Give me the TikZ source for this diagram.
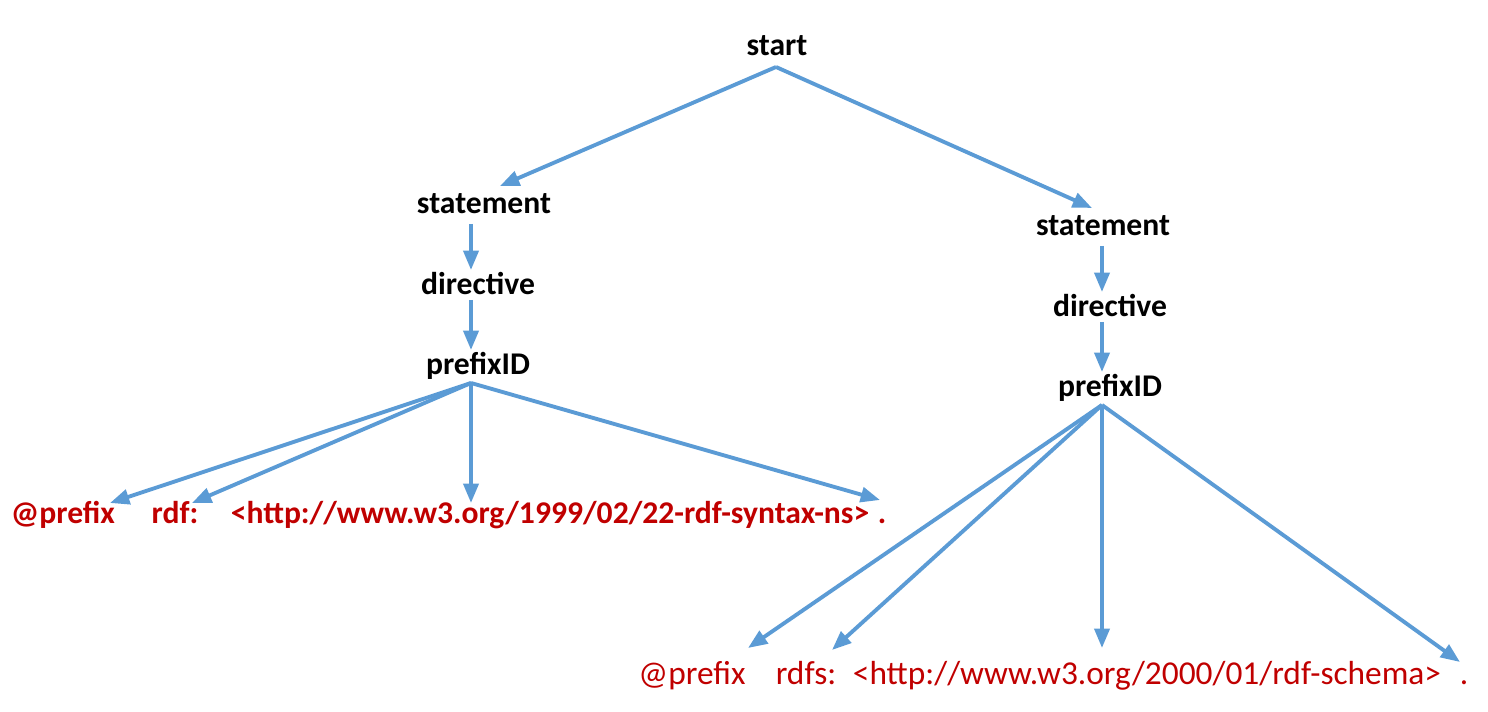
\documentclass[tikz,border=0pt]{standalone}
\usepackage{fontspec}
\setmainfont{Carlito}
\usetikzlibrary{arrows.meta}
\definecolor{treeblue}{HTML}{5B9BD5}
\definecolor{tokred}{HTML}{C00000}
\begin{document}
\begin{tikzpicture}[x=0.02cm,y=-0.02cm,>={Triangle[length=11pt,width=8.5pt]},
  lbl/.style={font=\fontsize{18}{20}\selectfont\bfseries,inner sep=0pt,anchor=base},
  tok/.style={lbl,text=tokred},
  tokthin/.style={tok,font=\fontsize{19}{21}\selectfont},
  arr/.style={->,treeblue,line width=2.2pt}]
\useasboundingbox (0,0) rectangle (1488,712);
% root
\node[lbl] (start) at (777,56) {start};
% left branch
\node[lbl] (lsmt) at (484,214) {statement};
\node[lbl] (ldir) at (478,295) {directive};
\node[lbl] (lpre) at (478,375) {prefixID};
\node[tok] (lat)  at (63,524)  {@prefix};
\node[tok] (lrdf) at (175,524) {rdf:};
\node[tok] (luri) at (550,524) {<http://www.w3.org/1999/02/22-rdf-syntax-ns>};
\node[tok] (ldot) at (882,524) {.};
% right branch
\node[lbl] (rsmt) at (1103,236) {statement};
\node[lbl] (rdir) at (1110,317) {directive};
\node[lbl] (rpre) at (1110,397) {prefixID};
\node[tokthin] (rat)   at (692,684)  {@prefix};
\node[tokthin] (rrdfs) at (806,684)  {rdfs:};
\node[tokthin] (ruri)  at (1147,684) {<http://www.w3.org/2000/01/rdf-schema>};
\node[tokthin] (rdot)  at (1464,684) {.};
% connectors
\draw[arr] ([shift={(-1,11)}]start.base) -- ([shift={(16,-28)}]lsmt.base);
\draw[arr] ([shift={(-1,11)}]start.base) -- ([shift={(-11,-28)}]rsmt.base);
\draw[arr] ([shift={(-13,10)}]lsmt.base) -- ([shift={(-7,-25)}]ldir.base);
\draw[arr] ([shift={(-7,5)}]ldir.base) -- ([shift={(-7,-25)}]lpre.base);
\foreach \leaf/\dx/\dy in {lat/47/-21,lrdf/17/-21,luri/-79/-21,ldot/-2/-24}
  \draw[arr] ([shift={(-7,8)}]lpre.base) -- ([shift={(\dx,\dy)}]\leaf.base);
\draw[arr] ([shift={(-1,10)}]rsmt.base) -- ([shift={(-8,-25)}]rdir.base);
\draw[arr] ([shift={(-8,5)}]rdir.base) -- ([shift={(-8,-25)}]rpre.base);
\foreach \leaf/\dx/\dy in {rat/56/-36,rrdfs/26/-34,ruri/-45/-36,rdot/-4/-22}
  \draw[arr] ([shift={(-8,8)}]rpre.base) -- ([shift={(\dx,\dy)}]\leaf.base);
\end{tikzpicture}
\end{document}
